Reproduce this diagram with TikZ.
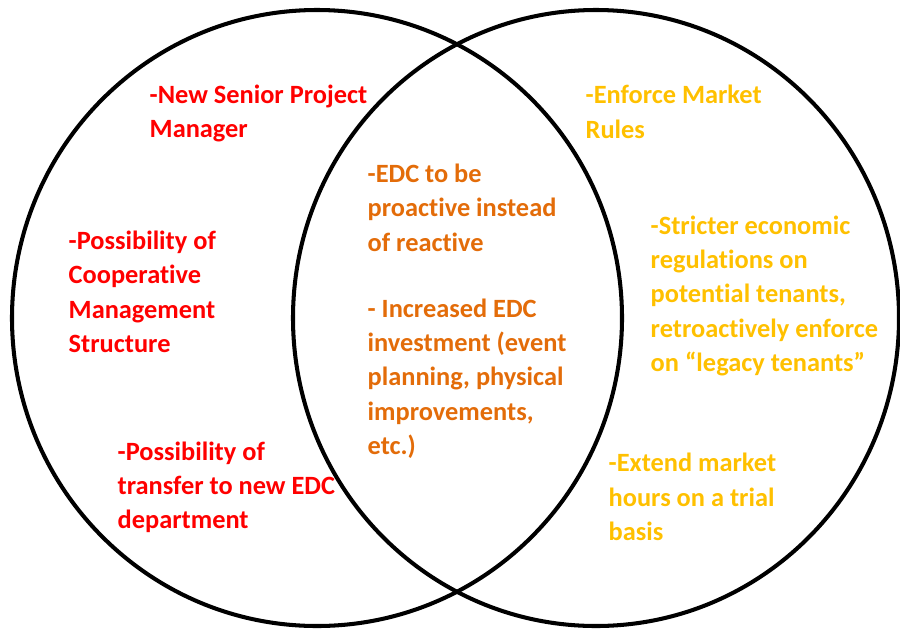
\documentclass[tikz,border=0pt]{standalone}
\usepackage{fontspec}
\setmainfont{Carlito}[Ligatures={TeX,NoCommon}]
\definecolor{edcred}{HTML}{FF0000}
\definecolor{edcorange}{HTML}{E36C09}
\definecolor{edcgold}{HTML}{FFC000}
\begin{document}
\begin{tikzpicture}[x=0.01cm, y=-0.01cm,
	item/.style={anchor=base west, align=left, inner sep=0pt,
		font=\fontsize{7.5}{9.67}\selectfont\bfseries},
	leftitem/.style={item, text=edcred},
	bothitem/.style={item, text=edcorange},
	rightitem/.style={item, text=edcgold}]

	\useasboundingbox (0,0) rectangle (900,630);

	% circles
	\draw[line width=1.15pt] (317,318) ellipse [x radius=305, y radius=308];
	\draw[line width=1.15pt] (596,318) ellipse [x radius=303, y radius=308];

	% node positions are the baseline of the last line
	% left side
	\node[leftitem] (manager) at (149,137) {-New Senior Project\\Manager};
	\node[leftitem] (coop) at (68,352) {-Possibility of\\Cooperative\\Management\\Structure};
	\node[leftitem] (transfer) at (117,528) {-Possibility of\\transfer to new EDC\\department};

	% overlap
	\node[bothitem] (proactive) at (367,251) {-EDC to be\\proactive instead\\of reactive};
	\node[bothitem] (invest) at (367,454) {- Increased EDC\\investment (event\\planning, physical\\improvements,\\etc.)};

	% right side
	\node[rightitem] (rules) at (585,138) {-Enforce Market\\Rules};
	\node[rightitem] (regs) at (650,371) {-Stricter economic\\regulations on\\potential tenants,\\retroactively enforce\\on ``legacy tenants''};
	\node[rightitem] (hours) at (608,540) {-Extend market\\hours on a trial\\basis};

\end{tikzpicture}
\end{document}
